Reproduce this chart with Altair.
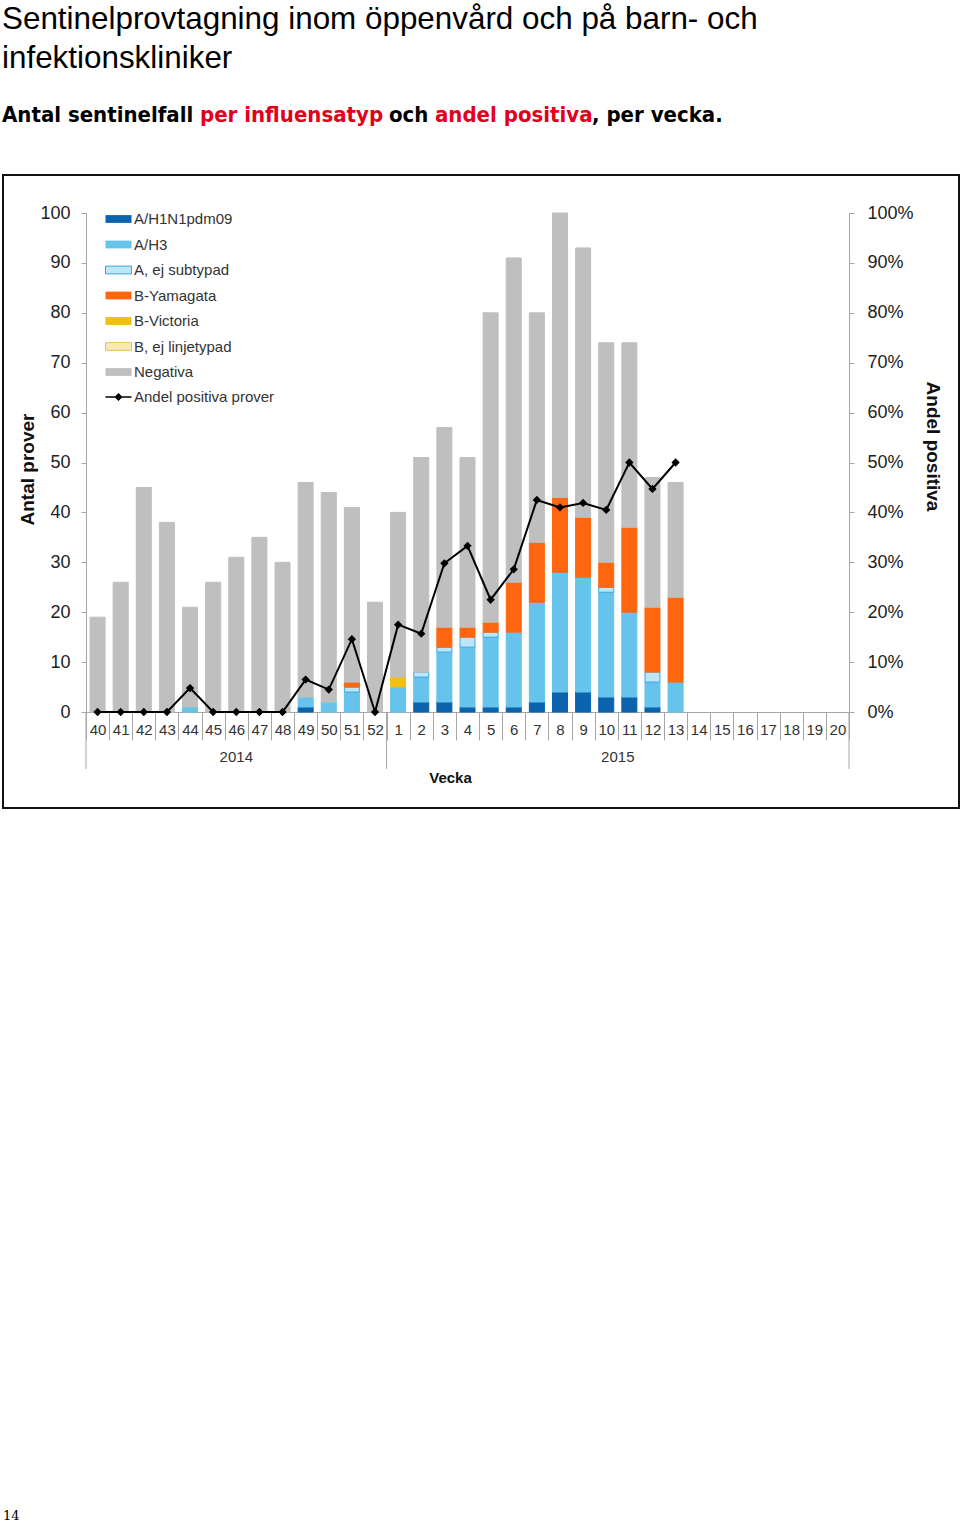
import altair as alt
import pandas as pd

# ---------------- data ----------------
weeks = ["40", "41", "42", "43", "44", "45", "46", "47", "48", "49", "50", "51", "52",
         "1", "2", "3", "4", "5", "6", "7", "8", "9", "10", "11", "12", "13",
         "14", "15", "16", "17", "18", "19", "20"]
data_weeks = weeks[:26]

types = ["A/H1N1pdm09", "A/H3", "A, ej subtypad", "B-Yamagata", "B-Victoria",
         "B, ej linjetypad", "Negativa"]

h1n1     = [0, 0, 0, 0, 0, 0, 0, 0, 0, 1, 0, 0, 0,  0, 2, 2, 1, 1, 1, 2, 4, 4, 3, 3, 1, 0]
h3       = [0, 0, 0, 0, 1, 0, 0, 0, 0, 2, 2, 4, 0,  5, 5, 10, 12, 14, 15, 20, 24, 23, 21, 17, 5, 6]
a_ej     = [0, 0, 0, 0, 0, 0, 0, 0, 0, 0, 0, 1, 0,  0, 1, 1, 2, 1, 0, 0, 0, 0, 1, 0, 2, 0]
b_yam    = [0, 0, 0, 0, 0, 0, 0, 0, 0, 0, 0, 1, 0,  0, 0, 4, 2, 2, 10, 12, 15, 12, 5, 17, 13, 17]
b_vic    = [0, 0, 0, 0, 0, 0, 0, 0, 0, 0, 0, 0, 0,  2, 0, 0, 0, 0, 0, 0, 0, 0, 0, 0, 0, 0]
b_ej     = [0, 0, 0, 0, 0, 0, 0, 0, 0, 0, 0, 0, 0,  0, 0, 0, 0, 0, 0, 0, 0, 0, 0, 0, 0, 0]
negativa = [19, 26, 45, 38, 20, 26, 31, 35, 30, 43, 42, 35, 22,
            33, 43, 40, 34, 62, 65, 46, 57, 54, 44, 37, 26, 23]
andel    = [0, 0, 0, 0, 4.8, 0, 0, 0, 0, 6.5, 4.5, 14.6, 0,
            17.5, 15.7, 29.8, 33.3, 22.5, 28.6, 42.5, 41.0, 41.9, 40.5, 50.0, 44.7, 50.0]

series = [h1n1, h3, a_ej, b_yam, b_vic, b_ej, negativa]

fill_colors = ["#0b63ad", "#65c3ec", "#bde6f8", "#ff660f", "#f2be12", "#fbe9b2", "#bfbfbf"]
stroke_colors = ["#0b63ad", "#65c3ec", "#3aa6dd", "#ff660f", "#f2be12", "#e3c35c", "#bfbfbf"]

rows = []
for k, (t, vals) in enumerate(zip(types, series)):
    for w, v in zip(data_weeks, vals):
        if v > 0:
            rows.append({"vecka": w, "typ": t, "antal": v, "ord": k})
bars_df = pd.DataFrame(rows)

line_df = pd.DataFrame({"vecka": data_weeks, "andel": andel,
                        "serie": ["Andel positiva prover"] * len(data_weeks)})

FONT = "Liberation Sans"
GREY = "#a6a6a6"

xscale = alt.Scale(domain=weeks, paddingInner=0, paddingOuter=0)
xaxis = alt.Axis(title="Vecka", tickBand="extent", tickSize=28, labelPadding=-17.5,
                 labelAngle=0, labelOverlap=False, labelFont=FONT, labelFontSize=15,
                 labelColor="#333", domainColor=GREY, tickColor=GREY,
                 titleX=364, titleY=65, titleBaseline="middle", titleFont=FONT,
                 titleFontSize=15, titleFontWeight="bold", titleColor="#111")

stroke_expr = ("datum.value === 'A, ej subtypad' ? '#3aa6dd' : "
               "(datum.value === 'B, ej linjetypad' ? '#e3c35c' : 'transparent')")

bar_legend = alt.Legend(orient="none", legendX=25, legendY=-1.5, title=None,
                        symbolType="M-2,-0.6H2V0.6H-2Z", symbolSize=169,
                        symbolStrokeWidth=1, symbolStrokeColor={"expr": stroke_expr},
                        labelOffset=8, rowPadding=9.5,
                        labelFont=FONT, labelFontSize=15, labelColor="#333",
                        padding=0, symbolOpacity=1)

bars = alt.Chart(bars_df).mark_bar(width=alt.RelativeBandSize(0.65), strokeWidth=1).encode(
    x=alt.X("vecka:N", scale=xscale, sort=weeks, axis=xaxis),
    y=alt.Y("antal:Q", stack="zero", scale=alt.Scale(domain=[0, 100], nice=False),
            axis=alt.Axis(values=list(range(0, 101, 10)), title="Antal prover", grid=False,
                          tickSize=5, labelPadding=11, labelFont=FONT, labelFontSize=18,
                          labelColor="#222", domainColor=GREY, tickColor=GREY,
                          titleFont=FONT, titleFontSize=19, titleFontWeight="bold",
                          titleColor="#111", titleX=-59, titleY=256, titleAngle=270,
                          titleBaseline="middle", titleAlign="center")),
    fill=alt.Fill("typ:N", scale=alt.Scale(domain=types, range=fill_colors), legend=bar_legend),
    stroke=alt.Stroke("typ:N", scale=alt.Scale(domain=types, range=stroke_colors), legend=None),
    order=alt.Order("ord:Q", sort="ascending"),
)

line = alt.Chart(line_df).mark_line(
    strokeWidth=2,
    point=alt.OverlayMarkDef(shape="diamond", size=30, filled=True, fill="black", stroke="black"),
).encode(
    x=alt.X("vecka:N", scale=xscale, sort=weeks, axis=xaxis),
    y=alt.Y("andel:Q", scale=alt.Scale(domain=[0, 100], nice=False),
            axis=alt.Axis(orient="right", values=list(range(0, 101, 10)),
                          labelExpr="datum.value + '%'", title="Andel positiva", grid=False,
                          tickSize=5, labelPadding=13, labelFont=FONT, labelFontSize=18,
                          labelColor="#222", domainColor=GREY, tickColor=GREY,
                          titleFont=FONT, titleFontSize=19, titleFontWeight="bold",
                          titleColor="#111", titleX=83, titleY=233, titleAngle=90,
                          titleBaseline="middle", titleAlign="center")),
    stroke=alt.Stroke("serie:N", scale=alt.Scale(domain=["Andel positiva prover"], range=["black"]),
                      legend=alt.Legend(orient="none", legendX=25, legendY=176.5, title=None,
                                        symbolType="M-2,0H2M0,-0.45L0.45,0L0,0.45L-0.45,0Z",
                                        symbolSize=169, symbolStrokeWidth=1.5,
                                        symbolFillColor="black", labelOffset=8,
                                        labelFont=FONT, labelFontSize=15, labelColor="#333",
                                        padding=0)),
)

one = alt.Data(values=[{"k": 1}])

# year dividers on the x axis
div_start = alt.Chart(pd.DataFrame({"vecka": ["40", "1"]})).mark_rule(color=GREY, strokeWidth=1).encode(
    x=alt.X("vecka:N", scale=xscale, sort=weeks, bandPosition=0, axis=xaxis),
    y=alt.value(499), y2=alt.value(556))
div_end = alt.Chart(pd.DataFrame({"vecka": ["20"]})).mark_rule(color=GREY, strokeWidth=1).encode(
    x=alt.X("vecka:N", scale=xscale, sort=weeks, bandPosition=1, axis=xaxis),
    y=alt.value(499), y2=alt.value(556))

year_2014 = alt.Chart(pd.DataFrame({"vecka": ["46"], "ar": ["2014"]})).mark_text(
    font=FONT, fontSize=15, color="#333", baseline="middle").encode(
    x=alt.X("vecka:N", scale=xscale, sort=weeks, bandPosition=0.5, axis=xaxis),
    y=alt.value(544), text="ar:N")
year_2015 = alt.Chart(pd.DataFrame({"vecka": ["11"], "ar": ["2015"]})).mark_text(
    font=FONT, fontSize=15, color="#333", baseline="middle").encode(
    x=alt.X("vecka:N", scale=xscale, sort=weeks, bandPosition=0, axis=xaxis),
    y=alt.value(544), text="ar:N")

# frame around the chart
frame = alt.Chart(one).mark_rect(fill=None, stroke="#111", strokeWidth=2).encode(
    x=alt.value(-83), x2=alt.value(873), y=alt.value(-38), y2=alt.value(595))


def txt(s, x, y, size, color="#000", weight="normal", font=FONT):
    return alt.Chart(one).mark_text(text=s, align="left", baseline="alphabetic", font=font,
                                    fontSize=size, color=color, fontWeight=weight).encode(
        x=alt.value(x), y=alt.value(y))


RED = "#e2001a"
SUBFONT = "DejaVu Sans Condensed"
titles = [
    txt("Sentinelprovtagning inom öppenvård och på barn- och", -84, -184, 31.4),
    txt("infektionskliniker", -84, -145, 31.4),
    txt("Antal sentinelfall", -84, -91, 22, weight="bold", font=SUBFONT),
    txt("per influensatyp", 114, -91, 22, color=RED, weight="bold", font=SUBFONT),
    txt("och", 303, -91, 22, weight="bold", font=SUBFONT),
    txt("andel positiva", 349, -91, 22, color=RED, weight="bold", font=SUBFONT),
    txt(", per vecka.", 506, -91, 22, weight="bold", font=SUBFONT),
    txt("14", -83, 1307, 13, font="DejaVu Serif"),
]

chart = alt.layer(bars, line, div_start, div_end, year_2014, year_2015, frame, *titles).resolve_scale(
    y="independent", stroke="independent"
).properties(
    width=763, height=499,
    autosize=alt.AutoSizeParams(type="none"),
    padding={"left": 86, "top": 213, "right": 111, "bottom": 810},
    background="white",
).configure_view(stroke=None)

chart.save("out.html", embed_options={"renderer": "svg", "actions": False})
